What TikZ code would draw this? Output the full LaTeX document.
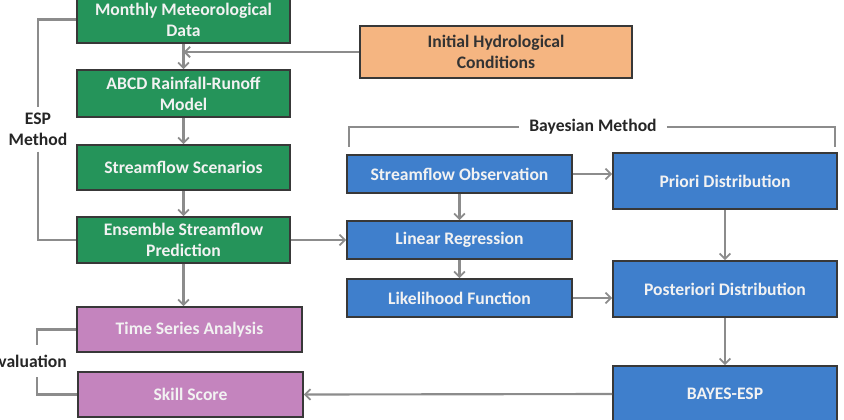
\documentclass[tikz,border=0pt]{standalone}
\usepackage{fontspec}
\setmainfont{Carlito}
\usetikzlibrary{arrows.meta}
\definecolor{gbox}{HTML}{25945A}
\definecolor{bbox}{HTML}{3F7FCC}
\definecolor{pbox}{HTML}{C484BE}
\definecolor{obox}{HTML}{F5B581}
\definecolor{edgec}{HTML}{383838}
\definecolor{linec}{HTML}{8C8C8C}
\definecolor{txtw}{HTML}{F2F2F2}
\tikzset{
  boxbase/.style={draw=edgec, line width=1.2pt, align=center, font=\bfseries\fontsize{13.2}{15.6}\selectfont, inner sep=1pt},
  greenbox/.style={boxbase, fill=gbox, text=txtw, minimum width=213*0.75pt},
  bluebox/.style={boxbase, fill=bbox, text=txtw},
  pinkbox/.style={boxbase, fill=pbox, text=txtw, minimum width=225*0.75pt, minimum height=45*0.75pt},
  orangebox/.style={boxbase, fill=obox, text=black!80, minimum width=272*0.75pt, minimum height=52*0.75pt},
  conn/.style={draw=linec, line width=1.6pt},
  arr/.style={conn, -{Straight Barb[length=4pt,width=8pt,line width=1.4pt]}},
  lbl/.style={font=\bfseries\fontsize{13.2}{15.6}\selectfont, text=black!85, align=center}
}
\begin{document}
\begin{tikzpicture}[x=0.75pt,y=-0.75pt]
\useasboundingbox (0,0) rectangle (844,419);
% left column
\node[greenbox, minimum height=47*0.75pt] (monthly) at (183.5,19.5) {Monthly Meteorological\\Data};
\node[greenbox, minimum height=47*0.75pt] (abcd) at (183.5,93.5) {ABCD Rainfall-Runoff\\Model};
\node[greenbox, minimum height=45*0.75pt] (scen) at (183.5,167.5) {Streamflow Scenarios};
\node[greenbox, minimum height=46*0.75pt] (ens) at (183.5,240) {Ensemble Streamflow\\Prediction};
\node[pinkbox] (tsa) at (189.5,329.5) {Time Series Analysis};
\node[pinkbox] (skill) at (190.5,394.5) {Skill Score};
\node[orangebox] (init) at (496,52) {Initial Hydrological\\Conditions};
% middle column
\node[bluebox, minimum width=225*0.75pt, minimum height=38*0.75pt] (obs) at (459.5,174) {Streamflow Observation};
\node[bluebox, minimum width=225*0.75pt, minimum height=38*0.75pt] (lin) at (459.5,240) {Linear Regression};
\node[bluebox, minimum width=225*0.75pt, minimum height=38*0.75pt] (lik) at (459.5,298) {Likelihood Function};
% right column
\node[bluebox, minimum width=224*0.75pt, minimum height=56*0.75pt] (priori) at (725,181) {Priori Distribution};
\node[bluebox, minimum width=224*0.75pt, minimum height=56*0.75pt] (post) at (725,289) {Posteriori Distribution};
\node[bluebox, minimum width=224*0.75pt, minimum height=56*0.75pt] (bayes) at (725,394) {BAYES-ESP};
% arrows
\draw[arr] (monthly.south) -- (abcd.north);
\draw[arr] (init.west) -- (init.west -| monthly.south);
\draw[arr] (abcd.south) -- (scen.north);
\draw[arr] (scen.south) -- (ens.north);
\draw[arr] (ens.south) -- (ens.south |- tsa.north);
\draw[arr] (ens.east) -- (lin.west);
\draw[arr] (obs.south) -- (lin.north);
\draw[arr] (lin.south) -- (lik.north);
\draw[arr] (obs.east) -- (obs.east -| priori.west);
\draw[arr] (lik.east) -- (lik.east -| post.west);
\draw[arr] (priori.south) -- (post.north);
\draw[arr] (post.south) -- (bayes.north);
\draw[arr] (bayes.west) -- (skill.east);
% ESP bracket
\node[lbl, inner xsep=0pt, inner ysep=6*0.75pt] (esp) at (38,129) {ESP\\Method};
\draw[conn] (monthly.west) -| (esp.north);
\draw[conn] (esp.south) |- (ens.west);
% Evaluation bracket
\node[lbl, anchor=east, inner sep=0pt] (evl) at (67,361) {Evaluation};
\coordinate (ev1) at (37,345);
\coordinate (ev2) at (37,377);
\draw[conn] (tsa.west) -| (ev1);
\draw[conn] (ev2) |- (skill.west);
% Bayesian bracket
\node[lbl, inner xsep=10*0.75pt, inner ysep=0pt] (bm) at (593,127) {Bayesian Method};
\coordinate (bmL) at (349,147);
\coordinate (bmR) at (835,147);
\draw[conn] (bm.west) -| (bmL);
\draw[conn] (bm.east) -| (bmR);
\end{tikzpicture}
\end{document}
